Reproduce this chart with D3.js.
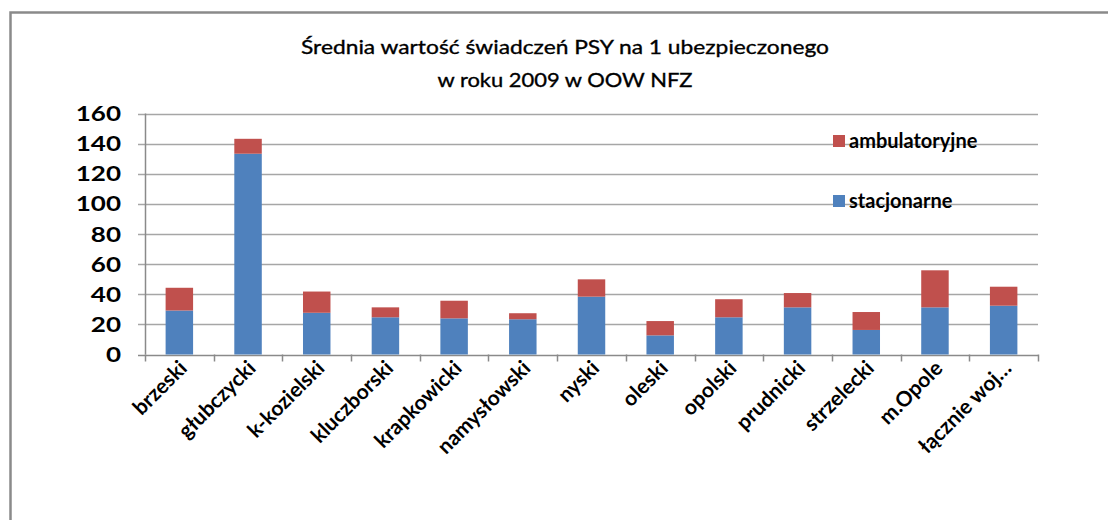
<!DOCTYPE html>
<html>
<head>
<meta charset="utf-8">
<script src="https://cdn.jsdelivr.net/npm/d3@7"></script>
<style>
  body { margin: 0; background: #fff; }
  svg { display: block; font-family: Lato, "Open Sans", sans-serif; }
</style>
</head>
<body>
<svg width="1108" height="520"></svg>
<script>
// dane
var categories = ["brzeski", "głubczycki", "k-kozielski", "kluczborski", "krapkowicki", "namysłowski",
                  "nyski", "oleski", "opolski", "prudnicki", "strzelecki", "m.Opole", "łącznie woj…"];
var stacjonarne = [29.2, 133.3, 27.7, 24.7, 24.0, 23.4, 38.4, 12.7, 24.7, 31.3, 16.3, 31.3, 32.4];
var ambulatoryjne = [15.1, 9.9, 14.1, 6.6, 11.7, 4.0, 11.5, 9.5, 12.0, 9.5, 11.9, 24.6, 12.6];
var yTicks = [0, 20, 40, 60, 80, 100, 120, 140, 160];
var titleLines = ["Średnia wartość świadczeń PSY na 1 ubezpieczonego", "w roku 2009 w OOW NFZ"];
var seriesNames = ["stacjonarne", "ambulatoryjne"];
var seriesColors = ["#4f81bd", "#c0504d"];

var svg = d3.select("svg");

// ramka wykresu
svg.append("rect")
   .attr("x", 10.5).attr("y", 12.5)
   .attr("width", 1200).attr("height", 600)
   .attr("fill", "#fff")
   .attr("stroke", "#8a8a8a")
   .attr("stroke-width", 2.5);

var plotLeft = 145, plotRight = 1038, plotTop = 113.5, plotBottom = 354.5;

var xScale = d3.scaleBand().domain(categories).range([plotLeft, plotRight]).paddingInner(0.6).paddingOuter(0.3),
    yScale = d3.scaleLinear().domain([0, 160]).range([plotBottom, plotTop]);

var rows = categories.map(function(c, i) {
    return { cat: c, stacjonarne: stacjonarne[i], ambulatoryjne: ambulatoryjne[i] };
});
var stacked = d3.stack().keys(seriesNames)(rows);

// linie siatki
svg.append("g")
   .selectAll("line")
   .data(yTicks)
   .enter().append("line")
   .attr("x1", plotLeft - 7).attr("x2", plotRight)
   .attr("y1", function(d) { return Math.round(yScale(d)) + 0.5; })
   .attr("y2", function(d) { return Math.round(yScale(d)) + 0.5; })
   .attr("stroke", function(d) { return d == 0 ? "#8a8a8a" : "#a6a6a6"; })
   .attr("stroke-width", 1.5);

// oś Y
svg.append("line")
   .attr("x1", plotLeft + 0.5).attr("x2", plotLeft + 0.5)
   .attr("y1", plotTop).attr("y2", plotBottom)
   .attr("stroke", "#8a8a8a").attr("stroke-width", 1.5);

svg.append("g")
   .selectAll("text")
   .data(yTicks)
   .enter().append("text")
   .attr("transform", function(d) { return "translate(121," + (yScale(d) + 7.5) + ") scale(1.3,1)"; })
   .attr("text-anchor", "end")
   .attr("font-weight", "bold")
   .attr("font-size", 20)
   .attr("fill", "#000")
   .text(function(d) { return d; });

// znaczniki osi X
svg.append("g")
   .selectAll("line")
   .data(d3.range(categories.length + 1))
   .enter().append("line")
   .attr("x1", function(i) { return Math.round(plotLeft + i * (plotRight - plotLeft) / categories.length) + 0.5; })
   .attr("x2", function(i) { return Math.round(plotLeft + i * (plotRight - plotLeft) / categories.length) + 0.5; })
   .attr("y1", plotBottom).attr("y2", plotBottom + 7)
   .attr("stroke", "#8a8a8a").attr("stroke-width", 1.5);

// słupki
svg.append("g")
   .selectAll("g")
   .data(stacked)
   .enter().append("g")
   .attr("fill", function(d, i) { return seriesColors[i]; })
   .selectAll("rect")
   .data(function(d) { return d; })
   .enter().append("rect")
   .attr("x", function(d) { return xScale(d.data.cat); })
   .attr("width", xScale.bandwidth())
   .attr("y", function(d) { return yScale(d[1]); })
   .attr("height", function(d) { return yScale(d[0]) - yScale(d[1]); });

// etykiety kategorii
svg.append("g")
   .selectAll("text")
   .data(categories)
   .enter().append("text")
   .attr("transform", function(d) {
       return "translate(" + (xScale(d) + xScale.bandwidth() / 2 + 9) + "," + (plotBottom + 15) + ") rotate(-45)";
   })
   .attr("text-anchor", "end")
   .attr("font-weight", "bold")
   .attr("font-size", 21)
   .attr("fill", "#000")
   .text(function(d) { return d; });

// tytuł
svg.append("text")
   .attr("x", 565).attr("y", 54)
   .attr("text-anchor", "middle")
   .attr("font-size", 20)
   .attr("fill", "#000")
   .attr("stroke", "#000").attr("stroke-width", 0.35)
   .attr("textLength", 528).attr("lengthAdjust", "spacingAndGlyphs")
   .text(titleLines[0]);
svg.append("text")
   .attr("x", 565).attr("y", 87)
   .attr("text-anchor", "middle")
   .attr("font-size", 20)
   .attr("fill", "#000")
   .attr("stroke", "#000").attr("stroke-width", 0.35)
   .attr("textLength", 255).attr("lengthAdjust", "spacingAndGlyphs")
   .text(titleLines[1]);

// legenda
var legendY = [201, 141];
var legend = svg.append("g")
   .selectAll("g")
   .data(seriesNames)
   .enter().append("g")
   .attr("transform", function(d, i) { return "translate(833," + legendY[i] + ")"; });
legend.append("rect")
   .attr("x", 0).attr("y", -6).attr("width", 12).attr("height", 12)
   .attr("fill", function(d, i) { return seriesColors[i]; });
legend.append("text")
   .attr("x", 16).attr("y", 6.5)
   .attr("font-weight", "bold")
   .attr("font-size", 20)
   .attr("fill", "#000")
   .text(function(d) { return d; });
</script>
</body>
</html>
